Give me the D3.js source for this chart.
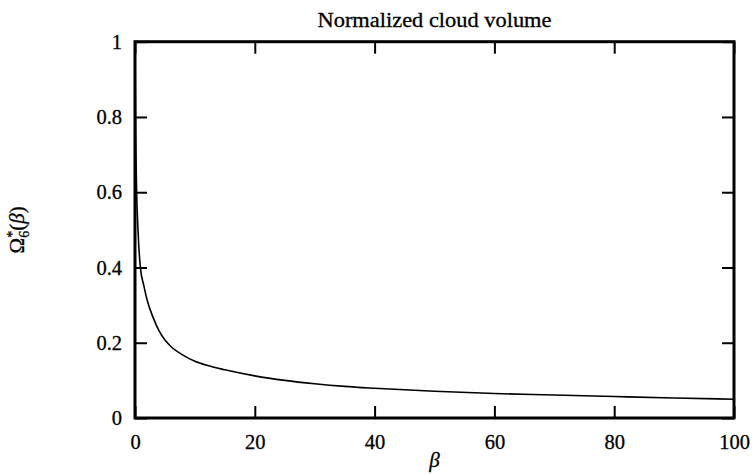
<!DOCTYPE html>
<html>
<head>
<meta charset="utf-8">
<script src="https://cdn.jsdelivr.net/npm/d3@7"></script>
<style>
  body { margin: 0; background: #fff; }
  svg text { font-family: "Liberation Serif", "DejaVu Serif", serif; fill: #000; stroke: #000; stroke-width: 0.3px; }
</style>
</head>
<body>
<div id="chart"></div>
<script>
// values
var betaVals  = [0, 0.1, 0.25, 0.5, 0.9, 1.5, 2, 3, 4, 5, 6, 8, 10, 12, 15, 20, 25, 30, 35, 40, 50, 60, 70, 80, 90, 100];
var omegaVals = [1, 0.78, 0.62, 0.5, 0.40, 0.35, 0.315, 0.268, 0.232, 0.207, 0.19, 0.167, 0.151, 0.14, 0.128, 0.112, 0.1, 0.091, 0.084, 0.079, 0.071, 0.065, 0.061, 0.057, 0.053, 0.050];
var xTicks = [0, 20, 40, 60, 80, 100];
var yTicks = [0, 0.2, 0.4, 0.6, 0.8, 1];
var title = "Normalized cloud volume";

var width = 753, height = 474;
var margin = {top: 41.7, right: 19, bottom: 56, left: 135};
var w = width - margin.left - margin.right;
var h = height - margin.top - margin.bottom;

var svg = d3.select("#chart").append("svg")
  .attr("width", width)
  .attr("height", height);

var g = svg.append("g")
  .attr("transform", "translate(" + margin.left + "," + margin.top + ")");

var x = d3.scaleLinear().domain([0, 100]).range([0, w]);
var y = d3.scaleLinear().domain([0, 1]).range([h, 0]);

var points = betaVals.map(function (b, i) { return [b, omegaVals[i]]; });

// curve
var line = d3.line()
  .x(function (d) { return x(d[0]); })
  .y(function (d) { return y(d[1]); })
  .curve(d3.curveMonotoneX);

g.append("path")
  .datum(points)
  .attr("fill", "none")
  .attr("stroke", "#000")
  .attr("stroke-width", 1.6)
  .attr("d", line);

// axes, ticks pointing inward
var fmt = d3.format("");
var axBottom = g.append("g").attr("transform", "translate(0," + h + ")")
  .call(d3.axisBottom(x).tickValues(xTicks).tickFormat(fmt).tickSize(-12).tickPadding(16));
var axLeft = g.append("g")
  .call(d3.axisLeft(y).tickValues(yTicks).tickFormat(fmt).tickSize(-12).tickPadding(13));
var axTop = g.append("g")
  .call(d3.axisTop(x).tickValues(xTicks).tickFormat("").tickSize(-12));
var axRight = g.append("g").attr("transform", "translate(" + w + ",0)")
  .call(d3.axisRight(y).tickValues(yTicks).tickFormat("").tickSize(-12));

[axBottom, axLeft, axTop, axRight].forEach(function (a) {
  a.select(".domain").remove();
  a.selectAll(".tick line").attr("stroke", "#000").attr("stroke-width", 2);
  a.selectAll("text").style("font-size", "20.5px").attr("fill", "#000")
    .style("font-family", "'Liberation Serif', serif");
});

// frame
g.append("rect")
  .attr("width", w)
  .attr("height", h)
  .attr("fill", "none")
  .attr("stroke", "#000")
  .attr("stroke-width", 3);

// title
svg.append("text")
  .attr("x", margin.left + w / 2)
  .attr("y", 27)
  .attr("text-anchor", "middle")
  .attr("textLength", 234)
  .attr("lengthAdjust", "spacingAndGlyphs")
  .style("font-size", "20px")
  .text(title);

// x label
svg.append("text")
  .attr("x", margin.left + w / 2)
  .attr("y", 467)
  .attr("text-anchor", "middle")
  .style("font-size", "21px")
  .style("font-style", "italic")
  .text("β");

// y label
var yl = svg.append("text")
  .attr("transform", "translate(24," + (margin.top + h / 2) + ") rotate(-90)")
  .attr("text-anchor", "middle")
  .style("font-size", "21px");
yl.append("tspan").text("Ω");
yl.append("tspan").attr("dy", -7).style("font-size", "14px").text("*");
yl.append("tspan").attr("dx", -7).attr("dy", 12).style("font-size", "14px").text("6");
yl.append("tspan").attr("dy", -5).text("(");
yl.append("tspan").style("font-style", "italic").text("β");
yl.append("tspan").text(")");
</script>
</body>
</html>
